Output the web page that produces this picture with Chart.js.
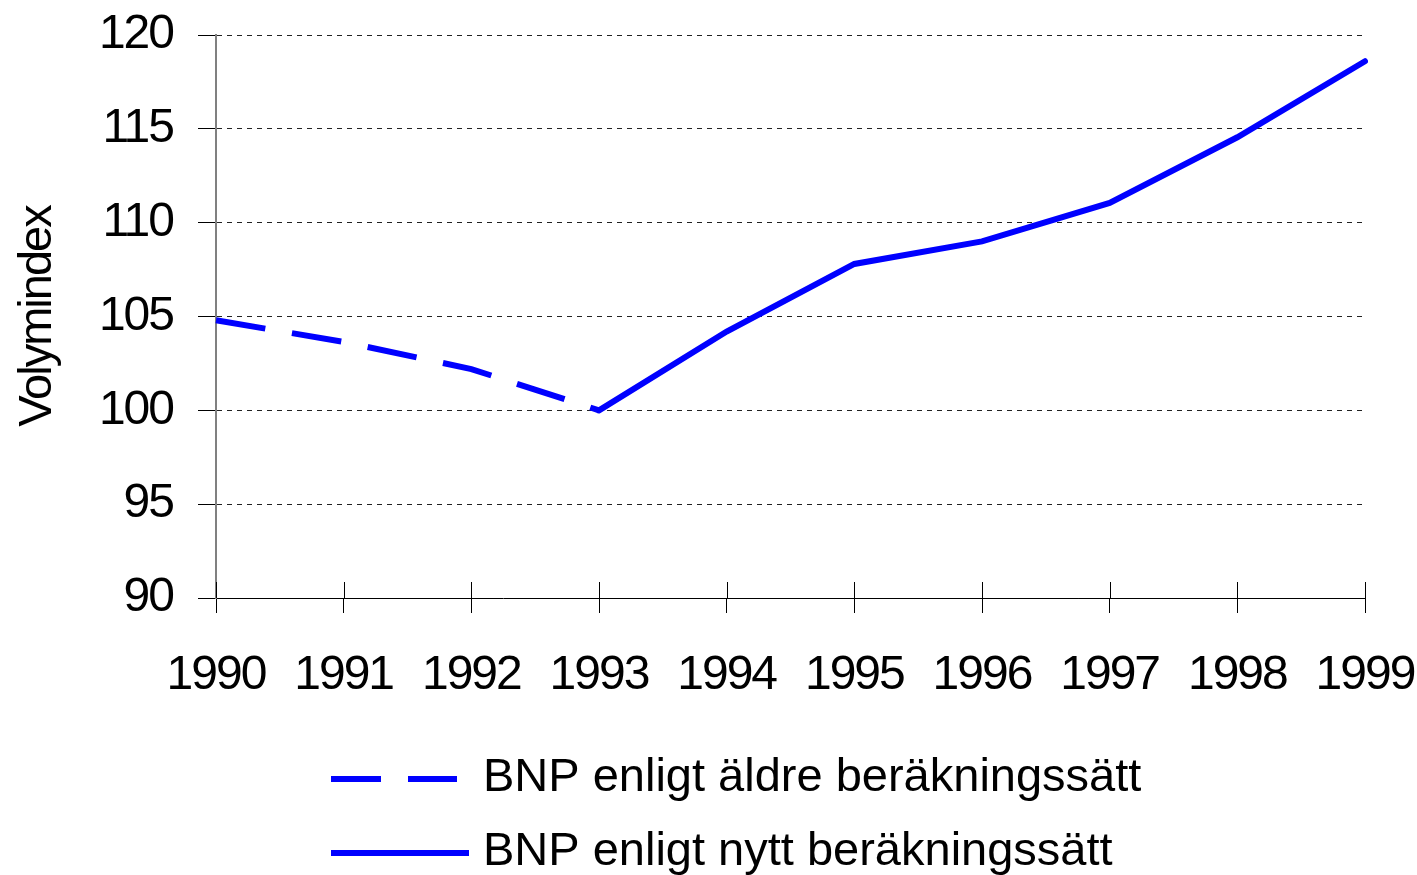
<!DOCTYPE html>
<html>
<head>
<meta charset="utf-8">
<script src="https://cdn.jsdelivr.net/npm/chart.js@4/dist/chart.umd.min.js"></script>
<style>
  html, body { margin: 0; padding: 0; background: #fff; }
  #wrap { width: 1417px; height: 875px; }
</style>
</head>
<body>
<div id="wrap"><canvas id="myChart" width="1417" height="875"></canvas></div>
<script>
// years on the x axis
const years = ["1990", "1991", "1992", "1993", "1994", "1995", "1996", "1997", "1998", "1999"];
// BNP, old method (dashed) and new method (solid)
const bnp_aldre = [104.8, 103.65, 102.2, 100, null, null, null, null, null, null];
const bnp_nytt = [null, null, null, 100, 104.2, 107.8, 109.0, 111.05, 114.55, 118.6];
const label_aldre = "BNP enligt äldre beräkningssätt";
const label_nytt = "BNP enligt nytt beräkningssätt";
const y_ticks = [90, 95, 100, 105, 110, 115, 120];

const FONT = "'Liberation Sans Narrow', 'Arial Narrow', 'Liberation Sans', Arial, sans-serif";

// the reference font is narrow, squeeze the axis text a little
const squeeze = {
    id: "squeeze",
    beforeLayout(chart) { chart.ctx.letterSpacing = "-2px"; },
    beforeDraw(chart) { chart.ctx.letterSpacing = "-2px"; },
};

// x ticks that cross the axis line (part above the axis)
const crossTicks = {
    id: "crossTicks",
    afterDraw(chart) {
        const ctx = chart.ctx;
        const x = chart.scales.x;
        const bottom = chart.chartArea.bottom;
        ctx.save();
        ctx.strokeStyle = "#000";
        ctx.lineWidth = 1;
        for (let i = 0; i < years.length; i++) {
            const px = Math.round(x.getPixelForTick(i)) + 0.5;
            ctx.beginPath();
            ctx.moveTo(px, bottom - 16);
            ctx.lineTo(px, bottom);
            ctx.stroke();
        }
        ctx.restore();
    },
};

// legend stacked in two rows under the chart
const stackedLegend = {
    id: "stackedLegend",
    afterDraw(chart) {
        const ctx = chart.ctx;
        ctx.save();
        ctx.letterSpacing = "0px";
        ctx.font = "47px " + FONT;
        ctx.fillStyle = "#000";
        ctx.textBaseline = "alphabetic";
        chart.data.datasets.forEach((ds, i) => {
            const base = 791 + i * 74;
            const lineY = base - 12;
            ctx.strokeStyle = ds.borderColor;
            ctx.lineWidth = 6;
            ctx.lineCap = "butt";
            ctx.setLineDash(ds.borderDash || []);
            ctx.beginPath();
            ctx.moveTo(331, lineY);
            ctx.lineTo(ds.borderDash ? 457 : 469, lineY);
            ctx.stroke();
            ctx.setLineDash([]);
            ctx.fillText(ds.label, 483, base);
        });
        ctx.restore();
    },
};

const config = {
    type: "line",
    data: {
        labels: years,
        datasets: [
            {
                label: label_aldre,
                data: bnp_aldre,
                borderColor: "#0000ff",
                borderWidth: 6,
                borderDash: [50, 27],
                borderCapStyle: "butt",
                pointRadius: 0,
                tension: 0,
                fill: false,
            },
            {
                label: label_nytt,
                data: bnp_nytt,
                borderColor: "#0000ff",
                borderWidth: 6,
                borderCapStyle: "round",
                pointRadius: 0,
                tension: 0,
                fill: false,
            },
        ],
    },
    options: {
        responsive: false,
        animation: false,
        layout: { padding: { top: 35, right: 52, left: 0, bottom: 0 } },
        plugins: {
            legend: { display: false },
            tooltip: { enabled: false },
        },
        scales: {
            x: {
                offset: false,
                afterFit(scale) {
                    scale.height = 277;
                    scale.paddingLeft = 0;
                    scale.paddingRight = 0;
                },
                grid: { drawOnChartArea: false, tickLength: 15, color: "#000" },
                border: { color: "#000", width: 1 },
                ticks: {
                    color: "#000",
                    font: { family: FONT, size: 48 },
                    padding: 34,
                    maxRotation: 0,
                    autoSkip: false,
                },
            },
            y: {
                min: 90,
                max: 120,
                afterFit(scale) {
                    scale.width = 216;
                    scale.paddingTop = 0;
                    scale.paddingBottom = 0;
                },
                afterBuildTicks(scale) { scale.ticks = y_ticks.map(v => ({ value: v })); },
                grid: { color: "#222", tickLength: 18, tickColor: "#000" },
                border: { color: "#808080", width: 2, dash: [5, 5] },
                ticks: {
                    color: "#000",
                    font: { family: FONT, size: 48 },
                    padding: 25,
                },
                title: {
                    display: true,
                    text: "Volymindex",
                    color: "#000",
                    font: { family: FONT, size: 47 },
                    padding: { top: 10, bottom: 0 },
                },
            },
        },
    },
    plugins: [squeeze, crossTicks, stackedLegend],
};

const ctx1 = document.getElementById("myChart").getContext("2d");
const chart = new Chart(ctx1, config);
</script>
</body>
</html>
